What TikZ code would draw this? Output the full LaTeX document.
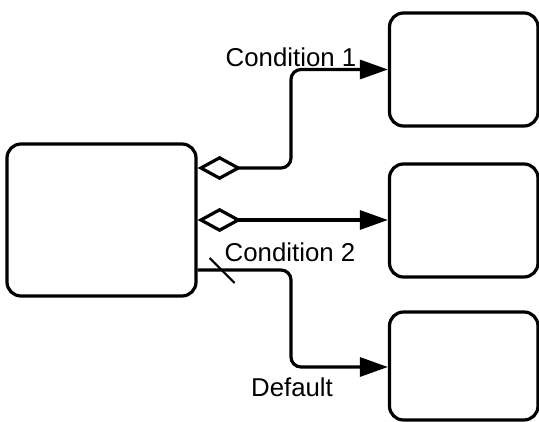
\documentclass[tikz,border=0pt]{standalone}
\usepackage{fontspec}
\setmainfont{Liberation Sans}
\usetikzlibrary{arrows.meta,calc}
\begin{document}
\begin{tikzpicture}[x=1pt,y=-1pt,
  box/.style={draw=black, line width=3.2pt, rounded corners=14pt, fill=white, inner sep=0pt},
  conn/.style={line width=3.2pt, rounded corners=10pt},
  tri/.style={-{Triangle[length=28pt 0, width=19pt 0]}},
  dtri/.style={{Diamond[open,length=44pt 0,width=24pt 0]}-{Triangle[length=28pt 0, width=19pt 0]}},
  lbl/.style={font=\fontsize{25.8}{30}\selectfont, inner sep=0pt, anchor=base}]
\useasboundingbox (0,0) rectangle (539,422);
\node[box, minimum width=189pt, minimum height=152pt] (src) at (101.5,220) {};
\node[box, minimum width=148.5pt, minimum height=113pt] (t1) at (463.75,69.5) {};
\node[box, minimum width=148.5pt, minimum height=113pt] (t2) at (463.75,220.5) {};
\node[box, minimum width=148.5pt, minimum height=108pt] (t3) at (463.75,366) {};
\coordinate (s1) at ([yshift=52pt]src.east);
\coordinate (s2) at (src.east);
\coordinate (s3) at ([yshift=-50pt]src.east);
\coordinate (k1) at (291,0);
\draw[conn,dtri] (s1) -- (s1 -| k1) -- (k1 |- t1.west) -- (t1.west);
\draw[conn,dtri] (s2) -- (s2 -| t2.west);
\draw[conn,tri] (s3) -- (s3 -| k1) -- (k1 |- 0,367) -- (t3.west |- 0,367);
\draw[line width=2pt] ($(s3)+(12,-12)$) -- ($(s3)+(37,13)$);
\node[lbl] (c1) at (291,67) {Condition 1};
\node[lbl] (c2) at (290,262) {Condition 2};
\node[lbl] (c3) at (292,397) {Default};
\end{tikzpicture}
\end{document}
